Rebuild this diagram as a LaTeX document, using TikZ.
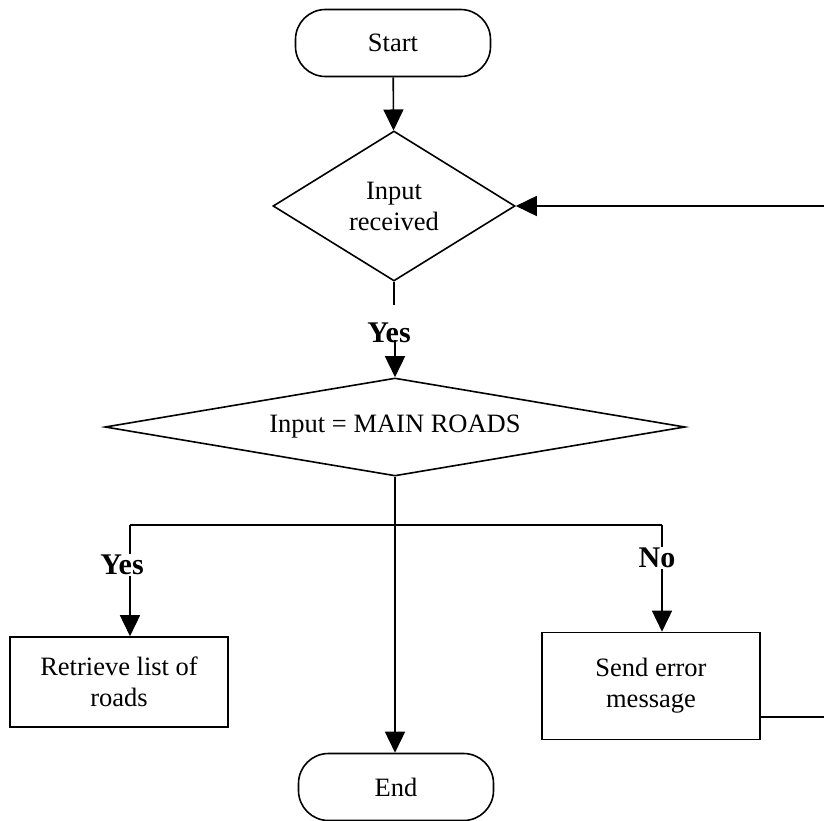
\documentclass[tikz,border=0pt]{standalone}
\usepackage{fontspec}
\setmainfont{Liberation Serif}
\usetikzlibrary{shapes.geometric,arrows.meta}
\begin{document}
\begin{tikzpicture}[x=1pt,y=-1pt,
  every node/.style={font=\fontsize{26.5pt}{31pt}\selectfont},
  line/.style={line width=1.6pt},
  arr/.style={line width=1.6pt,-{Triangle[length=21pt,width=20pt]}},
  term/.style={draw,line width=1.6pt,rounded corners=30pt,minimum width=195pt,minimum height=67pt,inner sep=0pt},
  dec/.style={draw,line width=1.6pt,diamond,inner sep=0pt,align=center},
  proc/.style={draw,line width=1.6pt,rectangle,minimum width=218pt,inner sep=0pt,align=center},
  lbl/.style={font=\bfseries\fontsize{30pt}{34pt}\selectfont,inner sep=1pt}]
\useasboundingbox (0,0) rectangle (824,821);
% nodes
\node[term] (start) at (393,43) {Start};
\node[dec,aspect=1.61,minimum width=242pt,minimum height=150pt] (d1) at (394,206) {Input\\received};
\node[dec,aspect=5.92,minimum width=580pt,minimum height=98pt] (d2) at (395,427) {Input = MAIN ROADS};
\node[proc,minimum height=90pt] (retr) at (119,682) {Retrieve list of\\roads};
\node[proc,minimum height=107pt] (err) at (651,686) {Send error\\message};
\node[term] (endn) at (396,787) {End};
% helper coordinates
\coordinate (ret) at (824,206);
\coordinate (d1gap) at (394,305);
\coordinate (d2in) at (395,340);
\coordinate (hl) at (130,525);
\coordinate (hr) at (662,525);
\coordinate (ex) at (824,717);
% connectors
\draw[arr] (start) -- (d1);
\draw[arr] (ret) -- (d1.east);
\draw[line] (d1.south) -- (d1gap);
\draw[arr] (d2in) -- (d2.north);
\draw[arr] (d2.south) -- (d2.south |- endn.north);
\draw[line] (hl) -- (hr);
\draw[arr] (hl) -- (hl |- retr.north);
\draw[arr] (hr) -- (hr |- err.north);
\draw[line] (err.east |- ex) -- (ex);
% labels
\node[lbl] (yes1) at (389,333) {Yes};
\node[lbl,fill=white] (yes2) at (122,565) {Yes};
\node[lbl,fill=white] (no) at (657,558) {No};
\end{tikzpicture}
\end{document}
